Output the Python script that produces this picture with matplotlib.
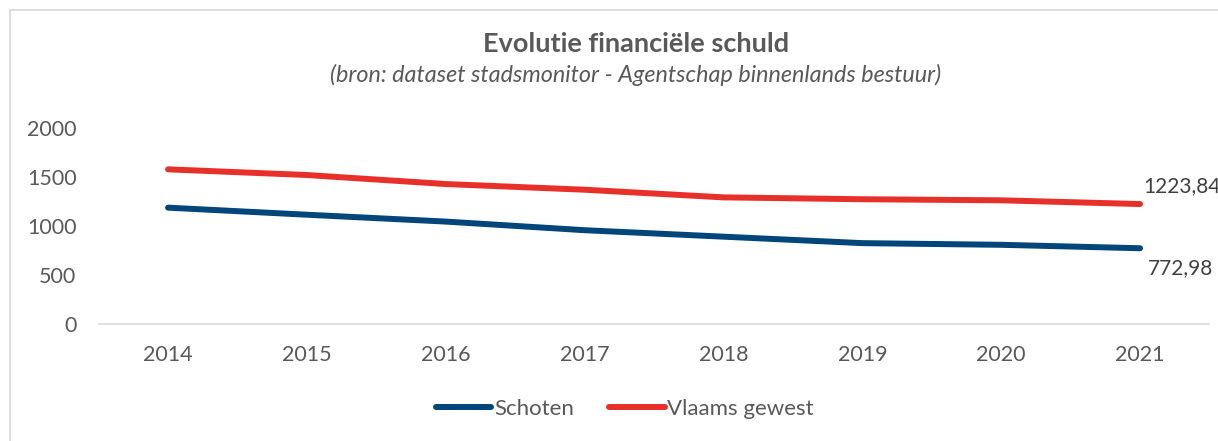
import matplotlib
matplotlib.use("Agg")
import matplotlib.pyplot as plt
from matplotlib.lines import Line2D

years = ["2014", "2015", "2016", "2017", "2018", "2019", "2020", "2021"]
schoten = [1187, 1115, 1045, 957, 891, 825, 808, 772.98]
vlaams = [1578, 1520, 1428, 1370, 1292, 1273, 1262, 1223.84]
yticks = [0, 500, 1000, 1500, 2000]
title = "Evolutie financiële schuld"
subtitle = "(bron: dataset stadsmonitor - Agentschap binnenlands bestuur)"
end_labels = ["772,98", "1223,84"]

plt.rcParams['font.family'] = ['Lato', 'DejaVu Sans']
TXT = "#595959"
BLUE = "#00467A"
RED = "#E8302A"

fig = plt.figure(figsize=(12.18, 4.41), dpi=100)
ax = fig.add_axes([0.081, 0.2653, 0.912, 0.4445])
x = list(range(len(years)))
ax.plot(x, schoten, color=BLUE, lw=4.3, solid_capstyle='round', label="Schoten")
ax.plot(x, vlaams, color=RED, lw=4.3, solid_capstyle='round', label="Vlaams gewest")
ax.set_xlim(-0.5, len(years) - 0.5)
ax.set_ylim(0, 2000)
ax.set_yticks(yticks)
ax.set_yticklabels([str(v) for v in yticks])
ax.set_xticks(x)
ax.set_xticklabels(years)
for s in ["top", "right", "left"]:
    ax.spines[s].set_visible(False)
ax.spines["bottom"].set_color("#D9D9D9")
ax.spines["bottom"].set_linewidth(1.2)
ax.tick_params(axis='both', length=0, labelsize=15.5, colors=TXT)
ax.tick_params(axis='y', pad=16)
ax.tick_params(axis='x', pad=15)

ax.annotate(end_labels[1], (x[-1], vlaams[-1]), xytext=(3, 18), textcoords='offset pixels',
            fontsize=15, color="#404040", ha='left', va='center', annotation_clip=False)
ax.annotate(end_labels[0], (x[-1], schoten[-1]), xytext=(8, -20), textcoords='offset pixels',
            fontsize=15, color="#404040", ha='left', va='center', annotation_clip=False)

fig.text(0.522, 1 - 44 / 441, title, ha='center', va='center', fontsize=19.5,
         fontweight='bold', color=TXT)
fig.text(0.522, 1 - 75 / 441, subtitle, ha='center', va='center', fontsize=16.8,
         style='italic', color=TXT)

leg = fig.legend(loc='center', bbox_to_anchor=(0.513, 1 - 409 / 441), ncol=2, frameon=False,
                 fontsize=16, handlelength=2.5, handletextpad=0.12, columnspacing=1.6)
for t in leg.get_texts():
    t.set_color(TXT)

fig.add_artist(Line2D([10 / 1218, 10 / 1218], [0, 1 - 10 / 441], color="#D9D9D9", lw=1.2,
                      transform=fig.transFigure))
fig.add_artist(Line2D([10 / 1218, 1], [1 - 10 / 441, 1 - 10 / 441], color="#D9D9D9", lw=1.2,
                      transform=fig.transFigure))

fig.savefig("out.png", dpi=100)
